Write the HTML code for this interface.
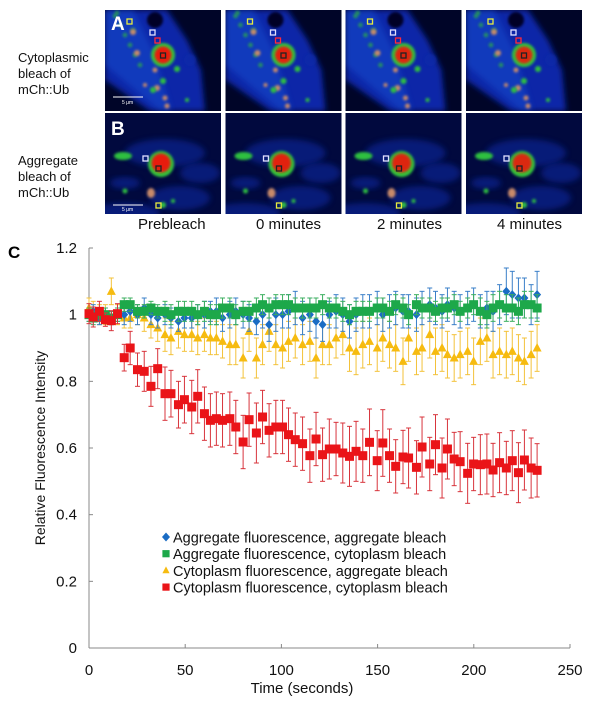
<!DOCTYPE html>
<html><head><meta charset="utf-8">
<style>
html,body{margin:0;padding:0;background:#fff;}
body{width:600px;height:706px;position:relative;overflow:hidden;font-family:"Liberation Sans",sans-serif;}
.lbl{position:absolute;font-size:13px;line-height:16px;color:#111;}
.tl{position:absolute;font-size:15px;color:#111;top:216px;}
svg{position:absolute;left:0;top:0;}
</style></head>
<body>
<div class="lbl" style="left:18px;top:50px;">Cytoplasmic<br>bleach of<br>mCh::Ub</div>
<div class="lbl" style="left:18px;top:153px;">Aggregate<br>bleach of<br>mCh::Ub</div>
<div class="tl" style="left:138px;">Prebleach</div>
<div class="tl" style="left:256px;">0 minutes</div>
<div class="tl" style="left:377px;">2 minutes</div>
<div class="tl" style="left:497px;">4 minutes</div>

<svg id="img" width="600" height="230">
<defs>
<filter id="bl" x="-20%" y="-20%" width="140%" height="140%"><feGaussianBlur stdDeviation="3"/></filter>
<filter id="bs" x="-50%" y="-50%" width="200%" height="200%"><feGaussianBlur stdDeviation="1.2"/></filter>
<clipPath id="pc"><rect x="0" y="0" width="116" height="101"/></clipPath>
</defs>
</svg>

<svg id="chart" width="600" height="706" style="top:0">
<text x="8" y="258" font-size="17" font-weight="bold" font-family="Liberation Sans">C</text>
</svg>

<script>
// ---------- microscopy panels ----------
const img=document.getElementById('img');
const NS='http://www.w3.org/2000/svg';
function el(tag,attrs,parent){const e=document.createElementNS(NS,tag);for(const k in attrs)e.setAttribute(k,attrs[k]);parent.appendChild(e);return e;}
const colX=[105,225.5,345.5,466];
const rowY=[10,113];
const fade=[1,0.97,0.94,0.92];
for(let r=0;r<2;r++){for(let c=0;c<4;c++){
  const g=el('g',{transform:`translate(${colX[c]},${rowY[r]})`,'clip-path':'url(#pc)'},img);
  
  
  el('rect',{x:0,y:0,width:116,height:101,fill:'#000528'},g);
  if(r===0){
    el('polygon',{points:'0,0 62,0 82,30 96,60 100,101 45,101 0,70',fill:'#0a28a8',filter:'url(#bl)'},g);
    el('polygon',{points:'0,0 28,0 48,40 66,101 55,101 0,55',fill:'#1650d0',opacity:0.5,filter:'url(#bl)'},g);
    el('circle',{cx:50,cy:10,r:8,fill:'#000528',filter:'url(#bs)'},g);
    el('circle',{cx:85,cy:50,r:6,fill:'#0a2aa8',opacity:0.7,filter:'url(#bs)'},g);
    [[10,6],[15,15],[20,25],[25,35],[30,45],[35,55],[12,3],[28,20]].forEach(p=>el('circle',{cx:p[0],cy:p[1],r:2.3,fill:'#2fb83a',opacity:0.7,filter:'url(#bs)'},g));
    [[28,22,3],[32,43,3],[50,60,2.5],[52,78,3],[60,88,2.5],[62,96,2.5],[40,75,2]].forEach(p=>el('circle',{cx:p[0],cy:p[1],r:p[2],fill:'#c88a6a',filter:'url(#bs)'},g));
    [[72,59,3],[58,71,3],[48,80,3],[82,90,2]].forEach(p=>el('circle',{cx:p[0],cy:p[1],r:p[2],fill:'#2ec040',filter:'url(#bs)'},g));
    el('circle',{cx:58,cy:45,r:12,fill:'#34c43a',filter:'url(#bs)'},g);
    el('circle',{cx:58,cy:45,r:8.5,fill:'#e81c10',opacity:fade[c],filter:'url(#bs)'},g);
    el('rect',{x:22,y:9,width:5,height:5,fill:'none',stroke:'#e6ec40','stroke-width':1.3},g);
    el('rect',{x:45,y:20,width:5,height:5,fill:'none',stroke:'#e0e0ff','stroke-width':1.3},g);
    el('rect',{x:50,y:28,width:5,height:5,fill:'none',stroke:'#ff2a3a','stroke-width':1.3},g);
    el('rect',{x:55.5,y:43,width:5,height:5,fill:'none',stroke:'#222','stroke-width':1.3},g);
  } else {
    el('rect',{x:0,y:0,width:116,height:101,fill:'#041680'},g).setAttribute('opacity','0.25');
    [[60,40,40,14],[95,60,20,10],[20,100,35,10],[75,85,30,12],[20,70,15,6]].forEach(p=>el('ellipse',{cx:p[0],cy:p[1],rx:p[2],ry:p[3],fill:'#0a2aa8',opacity:0.55,filter:'url(#bl)'},g));
    el('ellipse',{cx:18,cy:43,rx:9,ry:4,fill:'#2fc040',filter:'url(#bs)'},g);
    el('ellipse',{cx:46,cy:80,rx:4,ry:5,fill:'#c88a6a',filter:'url(#bs)'},g);
    [[58,92,3],[20,78,2.5],[68,88,2]].forEach(p=>el('circle',{cx:p[0],cy:p[1],r:p[2],fill:'#2ec040',filter:'url(#bs)'},g));
    el('circle',{cx:56,cy:51,r:13,fill:'#34c43a',filter:'url(#bs)'},g);
    el('circle',{cx:56,cy:50,r:9.5,fill:'#e81c10',opacity:fade[c],filter:'url(#bs)'},g);
    el('rect',{x:38,y:43,width:5,height:5,fill:'none',stroke:'#e0e0ff','stroke-width':1.3},g);
    el('rect',{x:51,y:53,width:5,height:5,fill:'none',stroke:'#222','stroke-width':1.3},g);
    el('rect',{x:51,y:90,width:5,height:5,fill:'none',stroke:'#e6ec40','stroke-width':1.3},g);
  }
  if(c===0){
    el('line',{x1:8,y1:r?92:87,x2:38,y2:r?92:87,stroke:'#fff','stroke-width':1},g);
    const t=el('text',{x:17,y:r?98:94,'font-size':5,fill:'#fff','font-family':'Liberation Sans'},g);t.textContent='5 μm';
    const L=el('text',{x:6,y:r?22:20,'font-size':19,'font-weight':'bold',fill:'#fff','font-family':'Liberation Sans'},g);L.textContent=r?'B':'A';
    
    
  }
}}

// ---------- chart data ----------
const times=[0,2.2,5.4,8.5,11.6,14.8,18.3,21.4,25.2,28.7,32.2,35.7,39.5,42.6,46.5,49.6,53.4,56.5,60,63.1,66.2,69.4,73.2,76.3,80.1,83.2,87,90.2,93.6,97.1,100.6,103.7,107.2,111,114.8,118,121.4,124.9,128.4,131.9,135.4,138.8,142.3,145.8,149.8,152.7,156.2,159.4,163.2,166.1,170.2,173.1,177.1,180.1,183.5,186.3,189.8,192.9,196.8,199.9,203.4,206.8,210,213.4,216.9,220,223.2,226.3,229.8,232.9];
const blueVals=[1.0,1.01,0.99,1.0,0.99,1.0,1.0,1.01,1.0,1.02,1.0,0.99,1.0,0.99,0.98,0.99,0.99,1.0,1.0,1.01,1.01,0.99,1.0,1.01,1.0,0.99,0.98,1.0,0.97,1.0,1.0,1.01,1.02,0.99,1.0,0.98,0.97,1.0,1.01,1.0,0.98,1.0,1.01,1.01,1.02,1.0,1.01,1.02,1.01,1.01,1.0,1.02,1.03,1.02,1.01,1.03,1.02,1.01,1.02,1.03,1.01,1.02,1.01,1.03,1.07,1.06,1.05,1.05,1.03,1.06];
const blueErr=[0.02,0.02,0.02,0.02,0.02,0.02,0.03,0.03,0.03,0.03,0.03,0.03,0.03,0.03,0.03,0.03,0.03,0.03,0.04,0.03,0.04,0.04,0.04,0.04,0.04,0.04,0.04,0.04,0.05,0.05,0.04,0.05,0.05,0.05,0.05,0.05,0.05,0.04,0.05,0.05,0.05,0.05,0.05,0.05,0.05,0.05,0.05,0.05,0.05,0.05,0.05,0.05,0.05,0.05,0.05,0.05,0.05,0.05,0.05,0.05,0.05,0.05,0.06,0.06,0.07,0.07,0.06,0.06,0.06,0.07];
const greenVals=[1.0,0.99,1.0,1.0,0.99,1.0,1.03,1.03,1.01,1.01,1.02,1.01,1.01,1.0,1.01,1.01,1.01,1.0,1.01,1.0,1.0,1.02,1.02,1.0,1.01,1.01,1.02,1.03,1.02,1.03,1.03,1.03,1.02,1.02,1.02,1.02,1.03,1.02,1.02,1.01,1.0,1.01,1.01,1.01,1.02,1.02,1.01,1.03,1.02,1.0,1.03,1.02,1.02,1.01,1.02,1.02,1.03,1.01,1.02,1.03,1.01,1.0,1.02,1.03,1.02,1.02,1.01,1.03,1.03,1.02];
const greenErr=[0.02,0.02,0.02,0.02,0.02,0.02,0.02,0.02,0.02,0.02,0.02,0.02,0.03,0.03,0.03,0.03,0.03,0.03,0.03,0.03,0.03,0.03,0.03,0.03,0.03,0.03,0.03,0.03,0.03,0.03,0.03,0.03,0.03,0.03,0.03,0.03,0.03,0.03,0.03,0.03,0.03,0.03,0.03,0.03,0.03,0.03,0.03,0.03,0.03,0.03,0.03,0.03,0.03,0.03,0.03,0.03,0.03,0.03,0.03,0.03,0.04,0.04,0.04,0.04,0.04,0.04,0.04,0.04,0.04,0.04];
const yellowVals=[1.02,1.01,1.0,1.0,1.07,1.0,0.99,0.99,1.0,0.99,0.97,0.96,0.94,0.93,0.95,0.94,0.94,0.93,0.94,0.93,0.93,0.92,0.91,0.91,0.87,0.95,0.87,0.91,0.95,0.91,0.9,0.92,0.93,0.91,0.92,0.87,0.91,0.91,0.93,0.94,0.9,0.89,0.91,0.92,0.9,0.93,0.91,0.9,0.86,0.93,0.89,0.9,0.94,0.89,0.9,0.88,0.87,0.88,0.89,0.86,0.92,0.93,0.88,0.89,0.88,0.89,0.87,0.86,0.88,0.9];
const yellowErr=[0.03,0.03,0.03,0.03,0.04,0.03,0.03,0.03,0.03,0.04,0.04,0.04,0.05,0.05,0.05,0.05,0.05,0.05,0.05,0.05,0.05,0.05,0.06,0.06,0.06,0.06,0.06,0.06,0.06,0.06,0.06,0.06,0.06,0.06,0.06,0.06,0.06,0.06,0.06,0.06,0.07,0.07,0.07,0.07,0.07,0.07,0.07,0.07,0.07,0.07,0.07,0.07,0.07,0.07,0.07,0.07,0.07,0.07,0.07,0.07,0.07,0.07,0.07,0.07,0.07,0.07,0.07,0.07,0.07,0.07];
const redVals=[1.003,0.993,1.01,0.985,0.982,1.003,0.871,0.9,0.835,0.83,0.785,0.838,0.763,0.763,0.73,0.745,0.723,0.755,0.703,0.683,0.688,0.683,0.688,0.663,0.618,0.685,0.645,0.693,0.653,0.663,0.663,0.64,0.625,0.613,0.577,0.627,0.58,0.597,0.597,0.585,0.575,0.59,0.577,0.617,0.562,0.615,0.577,0.545,0.573,0.57,0.542,0.603,0.552,0.61,0.54,0.597,0.567,0.559,0.524,0.552,0.55,0.552,0.534,0.556,0.54,0.562,0.526,0.564,0.54,0.533];
const redErr=[0.03,0.03,0.03,0.02,0.03,0.03,0.04,0.05,0.05,0.06,0.06,0.06,0.08,0.07,0.07,0.07,0.08,0.08,0.08,0.08,0.08,0.08,0.08,0.08,0.08,0.08,0.09,0.08,0.08,0.08,0.08,0.08,0.08,0.08,0.08,0.08,0.08,0.09,0.08,0.09,0.09,0.09,0.08,0.1,0.09,0.1,0.08,0.08,0.08,0.09,0.08,0.09,0.08,0.09,0.09,0.09,0.08,0.09,0.09,0.08,0.09,0.09,0.08,0.09,0.08,0.09,0.09,0.09,0.09,0.08];
const xTicks=[0,50,100,150,200,250];
const yTicks=[0,0.2,0.4,0.6,0.8,1,1.2];
const legendLabels=['Aggregate fluorescence, aggregate bleach','Aggregate fluorescence, cytoplasm bleach','Cytoplasm fluorescence, aggregate bleach','Cytoplasm fluorescence, cytoplasm bleach'];

// ---------- chart drawing ----------
const ch=document.getElementById('chart');
const X0=89,X1=570,Y0=648,Y1=248;
const xs=v=>X0+(v/250)*(X1-X0);
const ys=v=>Y0-(v/1.2)*(Y0-Y1);
const F='Liberation Sans';
const ax=el('g',{},ch);


el('line',{x1:X0,y1:Y1,x2:X0,y2:Y0,stroke:'#888','stroke-width':1},ax);
el('line',{x1:X0,y1:Y0,x2:X1,y2:Y0,stroke:'#888','stroke-width':1},ax);
yTicks.forEach(v=>{
  el('line',{x1:X0,y1:ys(v),x2:X0+4,y2:ys(v),stroke:'#888'},ax);
  const t=el('text',{x:X0-12,y:ys(v)+5,'text-anchor':'end','font-size':15,'font-family':F,fill:'#111'},ax);
  t.textContent=String(v);
  
  
});
xTicks.forEach(v=>{
  el('line',{x1:xs(v),y1:Y0,x2:xs(v),y2:Y0-4,stroke:'#888'},ax);
  const t=el('text',{x:xs(v),y:675,'text-anchor':'middle','font-size':15,'font-family':F,fill:'#111'},ax);
  t.textContent=String(v);
  
  
});
const xt=el('text',{x:302,y:693,'text-anchor':'middle','font-size':15,'font-family':F,fill:'#111'},ch);
xt.textContent='Time (seconds)';


const yt=el('text',{x:0,y:0,'text-anchor':'middle','font-size':14,'font-family':F,fill:'#111',transform:'translate(45,448) rotate(-90)'},ch);
yt.textContent='Relative Fluorescence Intensity';



function marker(shape,x,y,col,parent){
  if(shape==='sq') return el('rect',{x:x-4.5,y:y-4.5,width:9,height:9,fill:col},parent);
  if(shape==='sqg') return el('rect',{x:x-4.5,y:y-4.5,width:9,height:9,fill:col},parent);
  if(shape==='dia') return el('polygon',{points:`${x},${y-4.5} ${x+4},${y} ${x},${y+4.5} ${x-4},${y}`,fill:col},parent);
  return el('polygon',{points:`${x},${y-5} ${x+4.5},${y+3.5} ${x-4.5},${y+3.5}`,fill:col},parent);
}
const series=[
  {name:'yellow',vals:yellowVals,err:yellowErr,col:'#f6bb10',ec:'#f3c23a',shape:'tri'},
  {name:'blue',vals:blueVals,err:blueErr,col:'#1a6cc4',ec:'#3a7fc8',shape:'dia'},
  {name:'green',vals:greenVals,err:greenErr,col:'#1da84a',ec:'#3aae5e',shape:'sqg'},
  {name:'red',vals:redVals,err:redErr,col:'#ea1418',ec:'#d8343c',shape:'sq'}
];
series.forEach(s=>{
  const g=el('g',{},ch);
  
  
  s.vals.forEach((v,i)=>{
    const x=xs(times[i]),yh=ys(v+s.err[i]),yl=ys(v-s.err[i]);
    el('line',{x1:x,y1:yh,x2:x,y2:yl,stroke:s.ec,'stroke-width':1},g);
    el('line',{x1:x-2.5,y1:yh,x2:x+2.5,y2:yh,stroke:s.ec,'stroke-width':1},g);
    el('line',{x1:x-2.5,y1:yl,x2:x+2.5,y2:yl,stroke:s.ec,'stroke-width':1},g);
  });
  s.vals.forEach((v,i)=>{
    const m=marker(s.shape,xs(times[i]),ys(v),s.col,g);
    
    
  });
});
// legend
const lg=el('g',{},ch);


const legShapes=['dia','sqg','tri','sq'];
const legCols=['#1a6cc4','#1da84a','#f6bb10','#ea1418'];
legendLabels.forEach((lab,i)=>{
  const y=538+i*16.7;
  const m=el('g',{},lg);
  
  
  const sh=marker(legShapes[i],166,y-1,legCols[i],m);
  if(legShapes[i]!=='dia'){sh.setAttribute('transform',`translate(166,${y-1}) scale(0.8) translate(-166,${-(y-1)})`);}
  const t=el('text',{x:173,y:y+4.5,'font-size':14.5,'font-family':F,fill:'#111'},m);
  t.textContent=lab;
});
</script>
</body></html>
